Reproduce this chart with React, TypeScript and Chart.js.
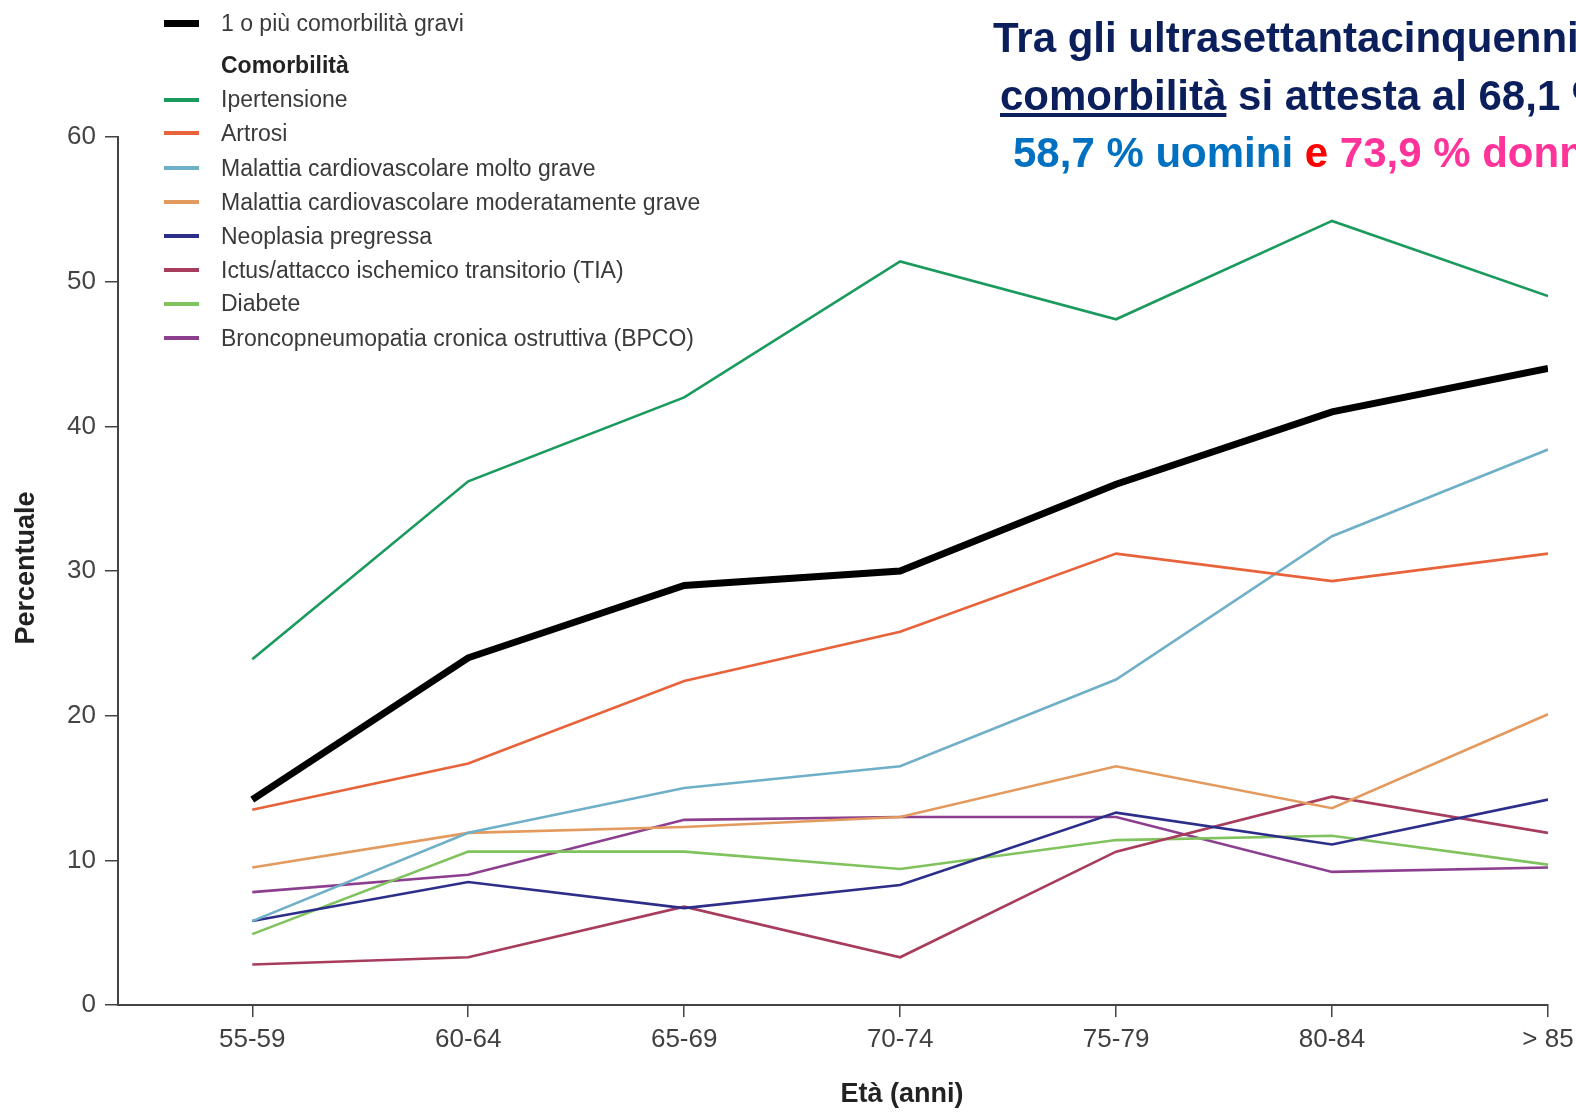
import React, { useEffect, useRef } from "react";
import { Chart, registerables } from "chart.js";

Chart.register(...registerables);

const categories = ["55-59", "60-64", "65-69", "70-74", "75-79", "80-84", "> 85"];
const yTicks = [0, 10, 20, 30, 40, 50, 60];

const gravi = [14.2, 24.0, 29.0, 30.0, 36.0, 41.0, 44.0];
const ipertensione = [23.9, 36.2, 42.0, 51.4, 47.4, 54.2, 49.0];
const artrosi = [13.5, 16.7, 22.4, 25.8, 31.2, 29.3, 31.2];
const cardioMoltoGrave = [5.8, 11.9, 15.0, 16.5, 22.5, 32.4, 38.4];
const cardioModerata = [9.5, 11.9, 12.3, 13.0, 16.5, 13.6, 20.1];
const neoplasia = [5.8, 8.5, 6.7, 8.3, 13.3, 11.1, 14.2];
const ictus = [2.8, 3.3, 6.8, 3.3, 10.6, 14.4, 11.9];
const diabete = [4.9, 10.6, 10.6, 9.4, 11.4, 11.7, 9.7];
const bpco = [7.8, 9.0, 12.8, 13.0, 13.0, 9.2, 9.5];

const seriesNames = [
  "1 o più comorbilità gravi",
  "Ipertensione",
  "Artrosi",
  "Malattia cardiovascolare molto grave",
  "Malattia cardiovascolare moderatamente grave",
  "Neoplasia pregressa",
  "Ictus/attacco ischemico transitorio (TIA)",
  "Diabete",
  "Broncopneumopatia cronica ostruttiva (BPCO)",
];
const seriesValues = [gravi, ipertensione, artrosi, cardioMoltoGrave, cardioModerata, neoplasia, ictus, diabete, bpco];
const seriesColors = ["#000000", "#1a9a5c", "#e8623a", "#6fb0c8", "#e39a5e", "#2c2e8a", "#a83c5c", "#80c25e", "#8c3f8e"];
const seriesWidths = [7, 2.6, 2.6, 2.6, 2.6, 2.6, 2.6, 2.6, 2.6];

const W = 1576;
const H = 1113;
const CANVAS_W = 1640;
const AREA_LEFT = 118;
const AREA_RIGHT = 1548;
const AREA_TOP = 137;
const AREA_BOTTOM = 1005;
const FIRST_CAT = 252.3;
const CAT_STEP = 216;

const tickFont = "'Liberation Sans', sans-serif";

export default function App() {
  const ref = useRef<HTMLCanvasElement | null>(null);

  useEffect(() => {
    if (!ref.current) return;
    const xMin = (AREA_LEFT - FIRST_CAT) / CAT_STEP;
    const datasets = seriesNames.map((name, i) => ({
      label: name,
      data: seriesValues[i].map((v, j) => ({ x: j, y: v })),
      borderColor: seriesColors[i],
      backgroundColor: seriesColors[i],
      borderWidth: seriesWidths[i],
      pointRadius: 0,
      tension: 0,
      fill: false,
      order: i === 0 ? 0 : 1,
    }));
    const chart = new Chart(ref.current, {
      type: "line",
      data: { datasets },
      options: {
        animation: false,
        responsive: false,
        devicePixelRatio: 1,
        layout: { padding: { left: 0, right: CANVAS_W - AREA_RIGHT, top: AREA_TOP, bottom: 0 } },
        plugins: { legend: { display: false }, tooltip: { enabled: false } },
        scales: {
          x: {
            type: "linear",
            min: xMin,
            max: categories.length - 1,
            afterBuildTicks: (s: any) => {
              s.ticks = categories.map((_, i) => ({ value: i }));
            },
            afterFit: (s: any) => {
              s.height = H - AREA_BOTTOM;
            },
            border: { display: true, color: "#444", width: 2 },
            grid: { drawOnChartArea: false, drawTicks: true, tickLength: 12, color: "#444", lineWidth: 1.5 },
            ticks: {
              autoSkip: false,
              maxRotation: 0,
              padding: 7,
              color: "#404040",
              font: { family: tickFont, size: 26 },
              callback: (v: any) => categories[Number(v)] ?? "",
            },
          },
          y: {
            type: "linear",
            min: 0,
            max: 60,
            afterBuildTicks: (s: any) => {
              s.ticks = yTicks.map((v) => ({ value: v }));
            },
            afterFit: (s: any) => {
              s.width = AREA_LEFT;
            },
            border: { display: true, color: "#444", width: 2 },
            grid: { drawOnChartArea: false, drawTicks: true, tickLength: 13, color: "#444", lineWidth: 1.5 },
            ticks: {
              padding: 9,
              color: "#444",
              font: { family: tickFont, size: 26 },
            },
          },
        },
      },
    });
    return () => chart.destroy();
  }, []);

  const legendTop = [23, 99.5, 133, 168, 202, 236, 270, 303.5, 338];

  return (
    <div style={{ position: "fixed", left: 0, top: 0, width: W, height: H, overflow: "hidden", background: "#fff" }}>
      <canvas ref={ref} width={CANVAS_W} height={H} style={{ position: "absolute", left: 0, top: 0, width: CANVAS_W, height: H }} />
      {seriesNames.map((name, i) => (
        <div key={name} style={{ position: "absolute", left: 164, top: legendTop[i] - 15, height: 30, display: "flex", alignItems: "center", whiteSpace: "nowrap" }}>
          <div style={{ width: 35, height: i === 0 ? 7 : 4, background: seriesColors[i] }} />
          <div style={{ marginLeft: 22, fontFamily: tickFont, fontSize: 23, color: "#3a3a3a" }}>{name}</div>
        </div>
      ))}
      <div style={{ position: "absolute", left: 221, top: 65 - 15, height: 30, display: "flex", alignItems: "center", fontFamily: tickFont, fontSize: 23, fontWeight: "bold", color: "#222" }}>
        Comorbilità
      </div>
      <div style={{ position: "absolute", left: 902 - 150, width: 300, top: 1093 - 18, height: 36, textAlign: "center", lineHeight: "36px", fontFamily: tickFont, fontSize: 27, fontWeight: "bold", color: "#222" }}>
        Età (anni)
      </div>
      <div style={{ position: "absolute", left: 25 - 150, width: 300, top: 568 - 18, height: 36, textAlign: "center", lineHeight: "36px", fontFamily: tickFont, fontSize: 27, fontWeight: "bold", color: "#222", transform: "rotate(-90deg)" }}>
        Percentuale
      </div>
      <div style={{ position: "absolute", left: 0, top: 0, fontFamily: "'Liberation Sans', sans-serif", fontWeight: "bold", fontSize: 42, whiteSpace: "nowrap" }}>
        <div style={{ position: "absolute", left: 993, top: 38 - 26, lineHeight: "52px", color: "#0b1f5c" }}>Tra gli ultrasettantacinquenni la</div>
        <div style={{ position: "absolute", left: 1000, top: 95.5 - 26, lineHeight: "52px", color: "#0b1f5c" }}>
          <span style={{ textDecoration: "underline" }}>comorbilità</span> si attesta al 68,1 %
        </div>
        <div style={{ position: "absolute", left: 1013, top: 153 - 26, lineHeight: "52px" }}>
          <span style={{ color: "#0070c0" }}>58,7 % uomini </span>
          <span style={{ color: "#ff0000" }}>e </span>
          <span style={{ color: "#ff3399" }}>73,9 % donne</span>
        </div>
      </div>
    </div>
  );
}
